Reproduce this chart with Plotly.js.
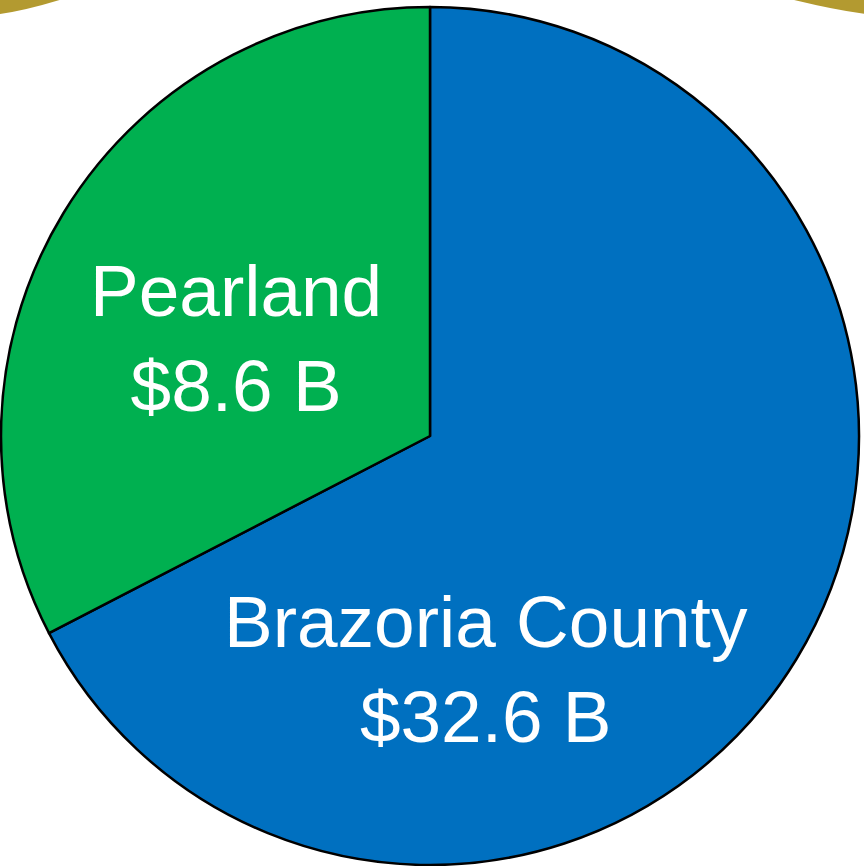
<!DOCTYPE html>
<html>
<head>
<meta charset="utf-8">
<script src="https://cdn.plot.ly/plotly-3.0.1.min.js"></script>
<style>html,body{margin:0;padding:0;background:#fff;}#chart{width:864px;height:866px;}</style>
</head>
<body>
<div id="chart"></div>
<script>
// Data
const categories = ["Brazoria County", "Pearland"];
const amountsB = [32.6, 8.6];            // printed values, $ billions
const sliceShares = [67.4, 32.6];        // slice sizes as drawn (percent of circle)
const sliceColors = ["#0070C0", "#00B050"];

const W = 864, H = 866;
const px = x => x / W;
const py = y => 1 - y / H;

const labelText = categories.map((c, i) => c + "<br>$" + amountsB[i].toFixed(1) + " B");

const trace = {
  type: "pie",
  labels: categories,
  values: sliceShares,
  sort: false,
  direction: "clockwise",
  rotation: 0,
  textinfo: "none",
  hoverinfo: "none",
  marker: { colors: sliceColors, line: { color: "#000000", width: 2.5 } },
  domain: { x: [px(1), px(859)], y: [py(865), py(7)] },
  showlegend: false
};

const labelPos = [[486, 669], [236, 338]];
const annotations = labelText.map((t, i) => ({
  text: t,
  xref: "paper", yref: "paper",
  x: px(labelPos[i][0]), y: py(labelPos[i][1]),
  xanchor: "center", yanchor: "middle",
  showarrow: false,
  font: { family: "Liberation Sans, Arial, sans-serif", size: 73, color: "#ffffff" }
}));

const gold = "#B39A30";
const shapes = [
  { type: "path", xref: "paper", yref: "paper", layer: "below",
    path: `M ${px(0)},${py(-2)} L ${px(66)},${py(-2)} Q ${px(28)},${py(10)} ${px(0)},${py(14)} Z`,
    fillcolor: gold, line: { width: 0 } },
  { type: "path", xref: "paper", yref: "paper", layer: "below",
    path: `M ${px(866)},${py(-2)} L ${px(786)},${py(-2)} Q ${px(834)},${py(10)} ${px(866)},${py(14)} Z`,
    fillcolor: gold, line: { width: 0 } }
];

const layout = {
  width: W, height: H,
  margin: { l: 0, r: 0, t: 0, b: 0, pad: 0 },
  paper_bgcolor: "#ffffff",
  plot_bgcolor: "#ffffff",
  showlegend: false,
  annotations: annotations,
  shapes: shapes
};

Plotly.newPlot("chart", [trace], layout, { displayModeBar: false, staticPlot: true });
</script>
</body>
</html>
